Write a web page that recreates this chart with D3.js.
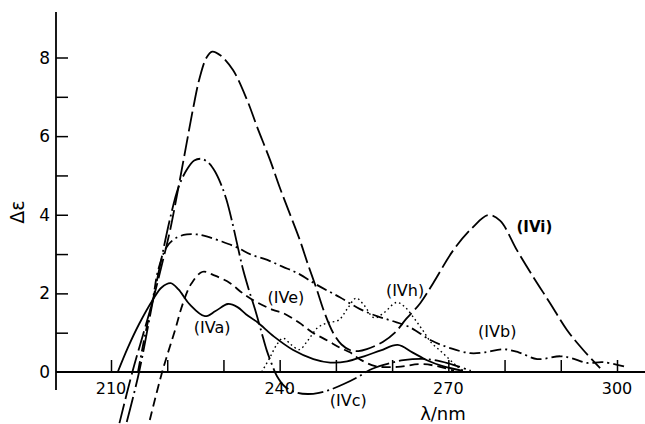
<!DOCTYPE html>
<html><head><meta charset="utf-8">
<script src="https://cdn.jsdelivr.net/npm/d3@7"></script>
<style>
html,body{margin:0;padding:0;background:#fff;}
svg{display:block;font-family:"DejaVu Sans",sans-serif;}
</style></head>
<body>
<svg id="chart" width="645" height="424"></svg>
<script>
// ---- data (wavelength nm, Δε) ----
const xTickValues = [210,220,230,240,250,260,270,280,290,300];
const xTickLabels = {210:"210",240:"240",270:"270",300:"300"};
const yTickValues = [1,2,3,4,5,6,7,8];
const yTickLabels = {0:"0",2:"2",4:"4",6:"6",8:"8"};

const IVa = [[211.2,0],[213,0.62],[215,1.22],[217.5,1.85],[219,2.15],[220.6,2.26],[222,2.1],[224,1.72],[226.7,1.42],[228.6,1.55],[230.8,1.73],[232.5,1.65],[234,1.47],[236,1.27],[239,0.9],[242.4,0.56],[246,0.33],[249,0.24],[252,0.27],[255,0.4],[258,0.55],[261,0.69],[263.6,0.5],[266.2,0.3],[269,0.15],[272.6,0.03]];
const IVi = [[211.5,-1.3],[213.8,0],[215.7,0.95],[217.5,1.85],[219,2.7],[220.5,3.6],[222,4.7],[223.3,5.7],[224.6,6.7],[225.8,7.5],[227,8.0],[228,8.15],[229.5,8.05],[231.7,7.68],[234.2,6.92],[236,6.23],[238.3,5.39],[240,4.7],[241.9,3.99],[243.6,3.35],[245,2.75],[246.6,2.1],[248,1.5],[249.5,1.0],[251,0.7],[252.5,0.56],[254,0.53],[255.5,0.58],[258.4,0.77],[260.5,1.0],[262.5,1.35],[265,1.75],[267.3,2.26],[270.9,3.1],[274.2,3.66],[277.1,3.99],[279.2,3.85],[282.2,3.1],[285.1,2.42],[288.1,1.75],[291.1,1.07],[294,0.56],[297,0.1]];
const IVc = [[212.8,-1.27],[215,0],[217.5,1.85],[219,2.9],[220.5,3.9],[222,4.7],[223.5,5.15],[224.8,5.38],[226.2,5.42],[227.5,5.3],[228.5,5.1],[229.5,4.8],[230.5,4.4],[231.5,3.85],[232.6,3.15],[233.5,2.6],[234.5,2.1],[235.6,1.6],[236.7,1.05],[237.7,0.55],[238.6,0.2],[239.5,-0.1],[241,-0.38],[243,-0.52],[245,-0.56],[247,-0.53],[249,-0.45],[251.5,-0.3],[254,-0.12],[256,0.05],[258.5,0.18],[262,0.3],[266,0.33],[270,0.22],[274,0.03]];
const IVb = [[214.8,0],[216,0.9],[217.5,1.9],[218.4,2.6],[220,3.2],[221.7,3.42],[223.5,3.5],[225.3,3.5],[227,3.45],[229.5,3.33],[232.4,3.17],[235,2.98],[237.8,2.85],[240.5,2.68],[243.1,2.52],[246.7,2.21],[250.7,1.9],[254.3,1.6],[257.3,1.42],[260,1.3],[263,1.15],[267,0.8],[270.5,0.6],[273.9,0.48],[276.5,0.5],[279.8,0.58],[282.5,0.5],[285.8,0.33],[289.9,0.4],[292,0.35],[294.7,0.23],[297.5,0.25],[301.8,0.12]];
const IVe = [[216.9,-1.22],[219.1,0],[221.4,1.07],[222.8,1.75],[224.3,2.25],[226.3,2.55],[228.5,2.45],[231.2,2.26],[233,2.05],[235,1.85],[238.8,1.58],[240.6,1.5],[243.5,1.25],[245.9,1.0],[248.5,0.8],[250.7,0.62],[252.5,0.5],[254.3,0.32],[257,0.15],[261,0.13],[265,0.2],[268,0.15],[271,0.03]];
const IVh = [[236.8,0],[238.2,0.35],[239.5,0.7],[240.6,0.86],[242,0.7],[243.5,0.57],[245,0.8],[246.7,1.12],[248.5,1.25],[250.5,1.32],[252,1.6],[253.6,1.88],[255,1.7],[256.8,1.38],[258.5,1.5],[260.8,1.77],[262.3,1.65],[264,1.35],[265.5,1.05],[267,0.74],[268.5,0.55],[270,0.35],[271.5,0.15],[273,0]];

const seriesNames = ["IVi","IVc","IVb","IVe","IVa","IVh"];
const seriesData = {IVi, IVc, IVb, IVe, IVa, IVh};
const seriesDash = {IVi:"20,5", IVc:"26,4,2,4", IVb:"11,4,2,4", IVe:"9,5", IVa:null, IVh:"1.6,3"};
const labelNames = ["(IVa)","(IVe)","(IVc)","(IVh)","(IVb)","(IVi)"];
const labelPos = [[228,0.99],[241.1,1.75],[252.2,-0.86],[262.3,1.93],[278.7,0.89],[285.3,3.56]];

// ---- drawing ----
const svg = d3.select("#chart");
const x = d3.scaleLinear().domain([210,300]).range([111,617]);
const y = d3.scaleLinear().domain([0,8]).range([372,57.5]);
const axisX = 56;

// axes lines
svg.append("line").attr("x1",axisX).attr("x2",axisX).attr("y1",12).attr("y2",390)
  .attr("stroke","#000").attr("stroke-width",1.8);
svg.append("line").attr("x1",axisX).attr("x2",645).attr("y1",y(0)).attr("y2",y(0))
  .attr("stroke","#000").attr("stroke-width",1.8);

// y ticks (inward, to the right)
const gy = svg.append("g").attr("transform",`translate(${axisX},0)`)
  .call(d3.axisRight(y).tickValues(yTickValues).tickSize(12).tickFormat(""));
gy.select(".domain").remove();
gy.selectAll(".tick line").attr("stroke","#000").attr("stroke-width",1.5);
svg.selectAll(".ylab").data(Object.keys(yTickLabels)).enter().append("text")
  .attr("x",50).attr("y",d=>y(+d)+6).attr("text-anchor","end")
  .attr("font-size",17).text(d=>yTickLabels[d]);

// x ticks (upward)
const gx = svg.append("g").attr("transform",`translate(0,${y(0)})`)
  .call(d3.axisTop(x).tickValues(xTickValues).tickSize(12).tickFormat(""));
gx.select(".domain").remove();
gx.selectAll(".tick line").attr("stroke","#000").attr("stroke-width",1.5);
svg.selectAll(".xlab").data(Object.keys(xTickLabels)).enter().append("text")
  .attr("x",d=>x(+d)).attr("y",394).attr("text-anchor","middle")
  .attr("font-size",16).text(d=>xTickLabels[d]);

// axis titles
svg.append("text").attr("transform","translate(24,212) rotate(-90)")
  .attr("text-anchor","middle").attr("font-size",19).text("Δε");
svg.append("text").attr("x",443).attr("y",420).attr("text-anchor","middle")
  .attr("font-size",18).text("λ/nm");

// curves
const line = d3.line().x(d=>x(d[0])).y(d=>y(d[1])).curve(d3.curveCatmullRom.alpha(0.5));
seriesNames.forEach(n=>{
  const p = svg.append("path").datum(seriesData[n]).attr("d",line)
    .attr("fill","none").attr("stroke","#000")
    .attr("stroke-width", n==="IVh"?1.4:1.8);
  if (seriesDash[n]) p.attr("stroke-dasharray",seriesDash[n]);
});

// curve labels
svg.selectAll(".clab").data(labelNames).enter().append("text")
  .attr("x",(d,i)=>x(labelPos[i][0])).attr("y",(d,i)=>y(labelPos[i][1]))
  .attr("text-anchor","middle").attr("font-size",(d)=>d==="(IVi)"?15:16)
  .attr("font-weight",d=>d==="(IVi)"?"bold":"normal").text(d=>d);
</script>
</body></html>
